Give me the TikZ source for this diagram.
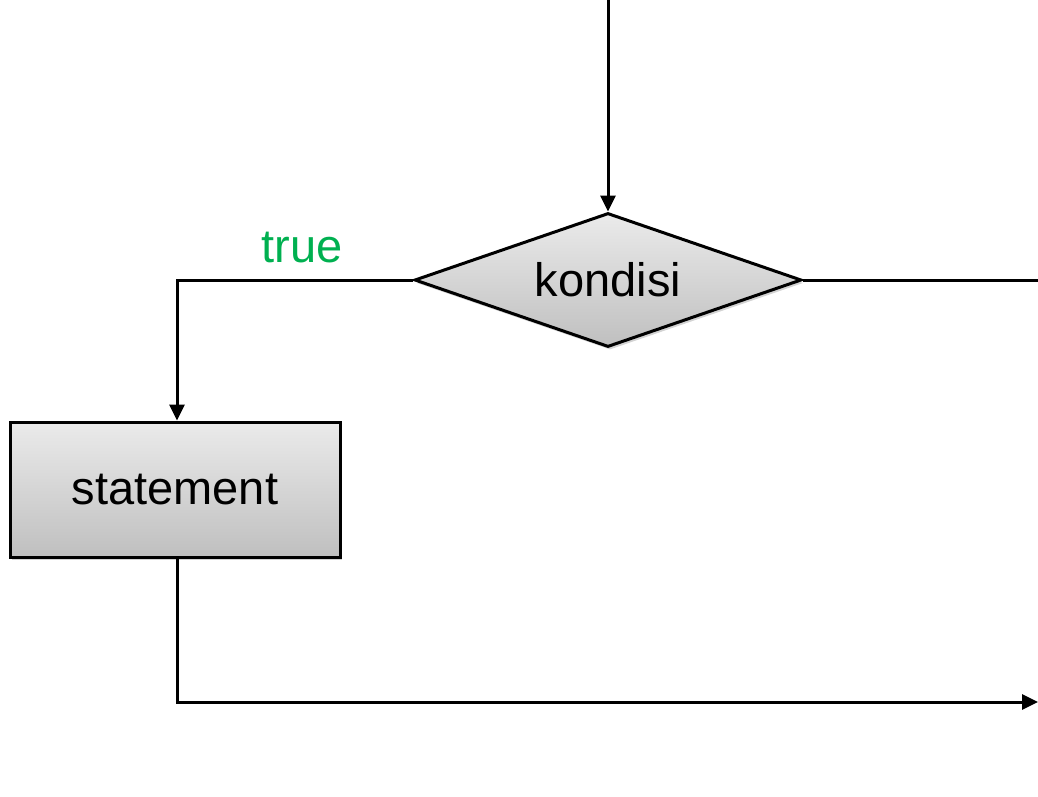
\documentclass[tikz,border=0pt]{standalone}
\usepackage{fontspec}
\setmainfont{Liberation Sans}
\usetikzlibrary{shapes.geometric,arrows.meta,shadows}
\definecolor{truegreen}{RGB}{0,176,80}
\tikzset{
  flowline/.style={line width=3pt, -{Triangle[length=16pt,width=15pt]}},
  plainline/.style={line width=3pt},
  boxfill/.style={draw=black, line width=3pt, top color=gray!16, bottom color=gray!50,
    drop shadow={opacity=0.35, shadow xshift=2pt, shadow yshift=-3pt}},
  decision/.style={boxfill, diamond, aspect=2.89, inner sep=0pt, minimum width=387pt, minimum height=134pt},
  process/.style={boxfill, rectangle, inner sep=0pt, minimum width=330pt, minimum height=135pt},
  lbl/.style={font=\fontsize{47}{56}\selectfont}
}
\begin{document}
\begin{tikzpicture}[x=1pt,y=-1pt]
\useasboundingbox (0,0) rectangle (1038,796);
\node[decision, lbl] (kond) at (608,280) {kondisi};
\coordinate (top) at (608,0);
\node[process, lbl] (stmt) at (175,489.5) {statement};
\coordinate (tl) at (177,280);
\coordinate (rt) at (1038,280);
\coordinate (bl) at (177,702);
\coordinate (br) at (1038,702);
\draw[flowline] (top) -- (kond.north);
\draw[flowline] (kond.west) -- (tl) -- (stmt.north -| tl);
\draw[plainline] (kond.east) -- (rt);
\draw[flowline] (stmt.south -| bl) -- (bl) -- (br);
\node[lbl, text=truegreen, anchor=base] (truelbl) at (302,262) {true};
\end{tikzpicture}
\end{document}
